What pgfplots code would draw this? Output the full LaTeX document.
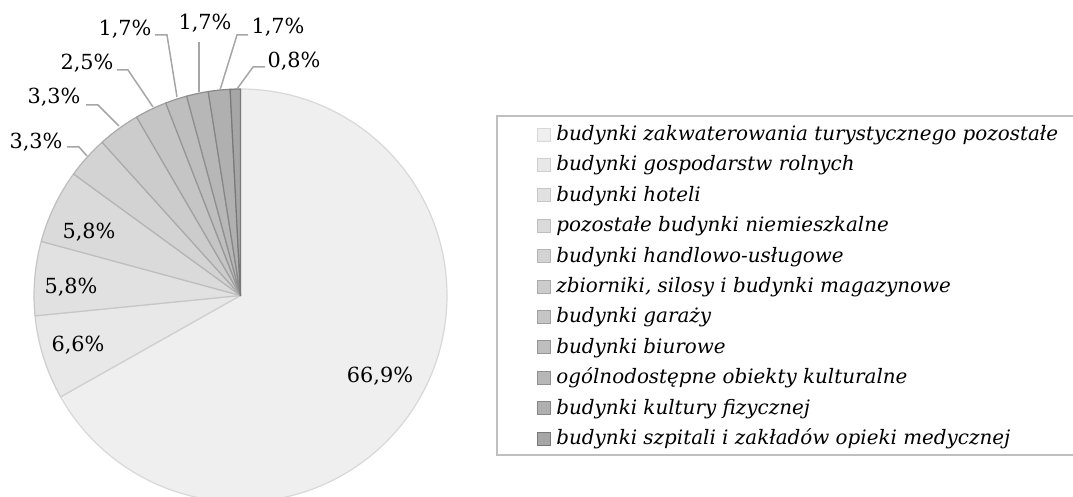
\documentclass[border=0pt]{standalone}
\usepackage{pgfplots}
\pgfplotsset{compat=1.18}
\usepackage{pgfplotstable}
\usepackage{fontspec}
\setmainfont{DejaVu Serif}

\definecolor{slice0}{RGB}{239,239,239}
\definecolor{slice1}{RGB}{232,232,232}
\definecolor{slice2}{RGB}{225,225,225}
\definecolor{slice3}{RGB}{218,218,218}
\definecolor{slice4}{RGB}{211,211,211}
\definecolor{slice5}{RGB}{204,204,204}
\definecolor{slice6}{RGB}{197,197,197}
\definecolor{slice7}{RGB}{190,190,190}
\definecolor{slice8}{RGB}{183,183,183}
\definecolor{slice9}{RGB}{176,176,176}
\definecolor{slice10}{RGB}{166,166,166}
\definecolor{edge0}{RGB}{216,216,216}
\definecolor{edge1}{RGB}{206,206,206}
\definecolor{edge2}{RGB}{198,198,198}
\definecolor{edge3}{RGB}{190,190,190}
\definecolor{edge4}{RGB}{180,180,180}
\definecolor{edge5}{RGB}{170,170,170}
\definecolor{edge6}{RGB}{160,160,160}
\definecolor{edge7}{RGB}{150,150,150}
\definecolor{edge8}{RGB}{142,142,142}
\definecolor{edge9}{RGB}{134,134,134}
\definecolor{edge10}{RGB}{120,120,120}
\definecolor{leader}{RGB}{166,166,166}
\definecolor{legframe}{RGB}{191,191,191}

\pgfplotstableread{
value
66.9
6.6
5.8
5.8
3.3
3.3
2.5
1.7
1.7
1.7
0.8
}\piedata

\pgfplotsset{
  legsq/.style={legend image code/.code={\draw[line width=0.5pt,##1] (0pt,-0.3pt) rectangle (6.5pt,6.2pt);}}
}

\newcommand{\lab}{\fontsize{10.4}{12}\selectfont}

\begin{document}
\begin{tikzpicture}
\useasboundingbox (0,0) rectangle (536.5pt,248.5pt);
\clip (0,0) rectangle (536.5pt,248.5pt);
\begin{axis}[
  at={(268.25pt,124.25pt)}, anchor=center,
  width=536.5pt, height=248.5pt, scale only axis,
  xmin=0, xmax=1073, ymin=0, ymax=497, y dir=reverse,
  hide axis, clip=false,
  legend style={at={(axis description cs:0.50047,0.74889)}, anchor=north west,
    draw=none, fill=none, inner sep=0pt, row sep=0pt, column sep=2.5pt,
    font=\itshape\fontsize{9.95}{12}\selectfont,
    nodes={inner sep=0pt, text height=7.6pt, text depth=7.6pt}},
  legend cell align=left,
]
\def\cum{0}
\pgfplotsforeachungrouped \i in {0,...,10}{
  \pgfplotstablegetelem{\i}{value}\of\piedata
  \pgfmathsetmacro\a{90-3.6*\cum/1.001}
  \pgfmathsetmacro\newcum{\cum+\pgfplotsretval}
  \pgfmathsetmacro\b{90-3.6*\newcum/1.001}
  \edef\cmd{\noexpand\filldraw[fill=slice\i, draw=edge\i, line width=0.6pt, line join=round]
    (axis cs:240.5,295.5) -- ++(\a:103.25pt) arc[start angle=\a, end angle=\b, radius=103.25pt] -- cycle;}
  \cmd
  \global\let\cum\newcum
}

\addlegendimage{legsq, fill=slice0, draw=edge0}
\addlegendentry{budynki zakwaterowania turystycznego pozostałe}
\addlegendimage{legsq, fill=slice1, draw=edge1}
\addlegendentry{budynki gospodarstw rolnych}
\addlegendimage{legsq, fill=slice2, draw=edge2}
\addlegendentry{budynki hoteli}
\addlegendimage{legsq, fill=slice3, draw=edge3}
\addlegendentry{pozostałe budynki niemieszkalne}
\addlegendimage{legsq, fill=slice4, draw=edge4}
\addlegendentry{budynki handlowo-usługowe}
\addlegendimage{legsq, fill=slice5, draw=edge5}
\addlegendentry{zbiorniki, silosy i budynki magazynowe}
\addlegendimage{legsq, fill=slice6, draw=edge6}
\addlegendentry{budynki garaży}
\addlegendimage{legsq, fill=slice7, draw=edge7}
\addlegendentry{budynki biurowe}
\addlegendimage{legsq, fill=slice8, draw=edge8}
\addlegendentry{ogólnodostępne obiekty kulturalne}
\addlegendimage{legsq, fill=slice9, draw=edge9}
\addlegendentry{budynki kultury fizycznej}
\addlegendimage{legsq, fill=slice10, draw=edge10}
\addlegendentry{budynki szpitali i zakładów opieki medycznej}

\draw[legframe, line width=0.75pt] (axis cs:497,116) rectangle (axis cs:1085,455);

% leader lines
\draw[leader, line width=0.75pt] (axis cs:67,147) -- (axis cs:79,147) -- (axis cs:87,156);
\draw[leader, line width=0.75pt] (axis cs:86,105) -- (axis cs:98,105) -- (axis cs:119,126);
\draw[leader, line width=0.75pt] (axis cs:117,70) -- (axis cs:128,70) -- (axis cs:153,107);
\draw[leader, line width=0.75pt] (axis cs:155,35) -- (axis cs:167,35) -- (axis cs:177,97);
\draw[leader, line width=0.75pt] (axis cs:199,42) -- (axis cs:199,92);
\draw[leader, line width=0.75pt] (axis cs:248,35) -- (axis cs:237,35) -- (axis cs:220,90);
\draw[leader, line width=0.75pt] (axis cs:265,67) -- (axis cs:253,67) -- (axis cs:237,89);

% labels
\node[font=\lab] at (axis cs:380,376) {66,9\%};
\node[font=\lab] at (axis cs:78,345) {6,6\%};
\node[font=\lab] at (axis cs:71,287) {5,8\%};
\node[font=\lab] at (axis cs:89,232) {5,8\%};
\node[font=\lab] at (axis cs:36,142) {3,3\%};
\node[font=\lab] at (axis cs:54,97) {3,3\%};
\node[font=\lab] at (axis cs:87,63) {2,5\%};
\node[font=\lab] at (axis cs:125,29) {1,7\%};
\node[font=\lab] at (axis cs:205,23) {1,7\%};
\node[font=\lab] at (axis cs:278,27) {1,7\%};
\node[font=\lab] at (axis cs:294,61) {0,8\%};
\end{axis}
\end{tikzpicture}
\end{document}
